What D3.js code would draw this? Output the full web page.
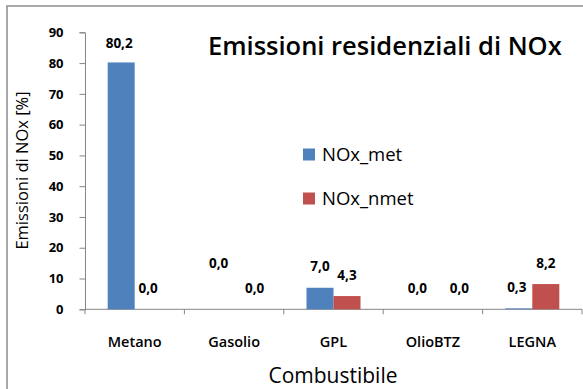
<!DOCTYPE html>
<html>
<head>
<meta charset="utf-8">
<script src="https://cdn.jsdelivr.net/npm/d3@7/dist/d3.min.js"></script>
<style>
  html, body { margin: 0; padding: 0; background: #fff; }
  svg { display: block; }
  text { font-family: "Open Sans", "Noto Sans", sans-serif; fill: #000; }
</style>
</head>
<body>
<svg id="chart" width="583" height="389"></svg>
<script>
// Fuel categories and the two NOx emission series (% share)
const categories = ["Metano", "Gasolio", "GPL", "OlioBTZ", "LEGNA"];
const seriesNames = ["NOx_met", "NOx_nmet"];
const noxMet  = [80.2, 0.0, 7.0, 0.0, 0.3];
const noxNmet = [0.0, 0.0, 4.3, 0.0, 8.2];
const yTicks = [0, 10, 20, 30, 40, 50, 60, 70, 80, 90];

const colors = { "NOx_met": "#4F81BD", "NOx_nmet": "#C0504D" };
const seriesValues = { "NOx_met": noxMet, "NOx_nmet": noxNmet };

const svg = d3.select("#chart");

// Outer chart frame (only top and left edges fall inside the view)
svg.append("rect")
  .attr("x", 7).attr("y", 6)
  .attr("width", 600).attr("height", 400)
  .attr("fill", "none")
  .attr("stroke", "#8c8c8c")
  .attr("stroke-width", 1.5);

const plot = { left: 85, right: 582, top: 32.3, bottom: 309.3 };

const x = d3.scaleBand().domain(categories).range([plot.left, plot.right]).paddingInner(0).paddingOuter(0);
const inner = d3.scaleBand().domain(seriesNames).range([0, x.bandwidth()]).paddingInner(0).paddingOuter(0.84);
const y = d3.scaleLinear().domain([0, 90]).range([plot.bottom, plot.top]);

// Y axis
const yAxis = svg.append("g")
  .attr("transform", `translate(${plot.left},0)`)
  .call(d3.axisLeft(y).tickValues(yTicks).tickSize(5.5).tickPadding(16).tickFormat(d3.format("d")));
yAxis.select(".domain").attr("stroke", "#868686");
yAxis.selectAll(".tick line").attr("stroke", "#868686");
yAxis.selectAll(".tick text")
  .style("font-size", "13px").style("font-weight", "700")
  .style("font-family", "'Open Sans', sans-serif").attr("fill", "#000");

// X axis with tick marks at the category boundaries
const xAxisG = svg.append("g").attr("transform", `translate(0,${plot.bottom})`);
xAxisG.append("line")
  .attr("x1", plot.left).attr("x2", plot.right)
  .attr("stroke", "#868686");
const boundaries = categories.map(c => x(c)).concat([x(categories[categories.length - 1]) + x.bandwidth()]);
xAxisG.selectAll("line.bt").data(boundaries).join("line")
  .attr("class", "bt")
  .attr("x1", d => d).attr("x2", d => d)
  .attr("y1", 0).attr("y2", 5)
  .attr("stroke", "#868686");
xAxisG.selectAll("text.cat").data(categories).join("text")
  .attr("class", "cat")
  .attr("x", d => x(d) + x.bandwidth() / 2)
  .attr("y", 37.5)
  .attr("text-anchor", "middle")
  .style("font-size", "14.5px").style("font-weight", "600")
  .text(d => d);

// Bars
const rows = [];
categories.forEach((c, i) => {
  seriesNames.forEach(s => rows.push({ cat: c, series: s, value: seriesValues[s][i] }));
});

svg.append("g").selectAll("rect").data(rows).join("rect")
  .attr("x", d => x(d.cat) + inner(d.series))
  .attr("width", inner.bandwidth())
  .attr("y", d => y(d.value))
  .attr("height", d => y(0) - y(d.value))
  .attr("fill", d => colors[d.series]);

// Value labels; a few zero-value labels sit slightly displaced
const labelNudge = {
  "Metano|NOx_met": [-2, 2.5],
  "Gasolio|NOx_met": [-2, -25],
  "Gasolio|NOx_nmet": [7, 0],
  "OlioBTZ|NOx_met": [-2, 0],
  "OlioBTZ|NOx_nmet": [13, 0],
  "LEGNA|NOx_met": [-2, 0]
};
const fmt = v => d3.format(".1f")(v).replace(".", ",");
svg.append("g").selectAll("text").data(rows).join("text")
  .attr("x", d => x(d.cat) + inner(d.series) + inner.bandwidth() / 2 + ((labelNudge[d.cat + "|" + d.series] || [0, 0])[0]))
  .attr("y", d => y(d.value) - 16.5 + ((labelNudge[d.cat + "|" + d.series] || [0, 0])[1]))
  .attr("text-anchor", "middle")
  .style("font-size", "13.5px").style("font-weight", "700")
  .text(d => fmt(d.value));

// Title
svg.append("text")
  .attr("x", 208).attr("y", 55)
  .style("font-size", "25.5px").style("font-weight", "600")
  .text("Emissioni residenziali di NOx");

// Legend
const legend = svg.append("g");
seriesNames.forEach((s, i) => {
  const g = legend.append("g").attr("transform", `translate(303,${148.5 + i * 44})`);
  g.append("rect").attr("width", 12).attr("height", 12).attr("fill", colors[s]);
  g.append("text").attr("x", 19).attr("y", 12.5)
    .style("font-size", "18.5px")
    .text(s);
});

// Axis titles
svg.append("text")
  .attr("transform", "translate(28,170.5) rotate(-90)")
  .attr("text-anchor", "middle")
  .style("font-size", "16.5px")
  .text("Emissioni di NOx [%]");

svg.append("text")
  .attr("x", 333).attr("y", 382.5)
  .attr("text-anchor", "middle")
  .style("font-size", "21px")
  .text("Combustibile");
</script>
</body>
</html>
